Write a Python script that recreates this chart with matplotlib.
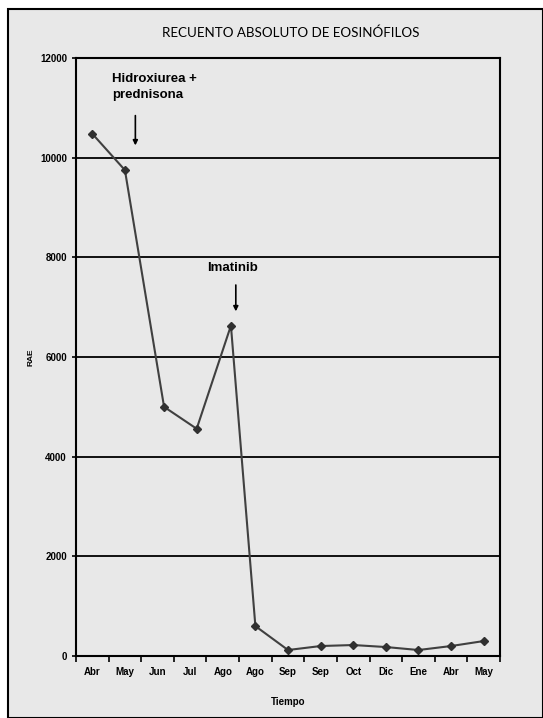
import matplotlib
matplotlib.use("Agg")
import matplotlib.pyplot as plt
from matplotlib.patches import Rectangle

# datos
meses = ["Abr", "May", "Jun", "Jul", "Ago", "Ago", "Sep", "Sep", "Oct", "Dic", "Ene", "Abr", "May"]
x_pos = [0, 1, 2.2, 3.2, 4.25, 5, 6, 7, 8, 9, 10, 11, 12]
rae = [10480, 9750, 5000, 4560, 6630, 600, 120, 200, 220, 180, 120, 200, 300]

plt.rcParams['font.family'] = ['Liberation Sans', 'DejaVu Sans']

fig = plt.figure(figsize=(5.43, 7.18), dpi=100)
fig.patch.set_facecolor("white")
# fondo gris con borde negro
fig.patches.append(Rectangle((8 / 543, 0), 535 / 543, 709 / 718, transform=fig.transFigure,
                             facecolor="#e8e8e8", edgecolor="black", linewidth=1.5, zorder=-1))

ax = fig.add_axes([76 / 543, 62 / 718, 424 / 543, 598 / 718])
ax.set_facecolor("#e8e8e8")

ax.plot(x_pos, rae, color="#404040", linewidth=1.5, marker="D", markersize=4.5,
        markerfacecolor="#303030", markeredgecolor="#303030")

ax.set_xlim(-0.5, len(meses) - 0.5)
ax.set_ylim(0, 12000)
ax.set_yticks(range(0, 12001, 2000))
ax.yaxis.grid(True, color="black", linewidth=1.3)
ax.set_axisbelow(True)

ax.set_xticks([i - 0.5 for i in range(len(meses) + 1)])
ax.set_xticklabels([])
ax.set_xticks(range(len(meses)), minor=True)
ax.set_xticklabels(meses, minor=True, fontsize=7, fontweight="bold")
ax.tick_params(axis="x", which="major", length=4, width=1.2, direction="out")
ax.tick_params(axis="x", which="minor", length=0, pad=8)
ax.tick_params(axis="y", length=3, width=1.2, labelsize=7)
for lab in ax.get_yticklabels():
    lab.set_fontweight("bold")

for s in ax.spines.values():
    s.set_linewidth(1.5)
    s.set_color("black")

ax.set_xlabel("Tiempo", fontsize=7, fontweight="bold", labelpad=14)
ax.set_ylabel("RAE", fontsize=6, fontweight="bold", labelpad=4)

fig.text(0.535, 0.954, "RECUENTO ABSOLUTO DE EOSINÓFILOS", ha="center", va="center",
         fontsize=9.6, family=["Lato", "DejaVu Sans"])

# flechas de tratamiento
ax.annotate("", xy=(1.32, 10190), xytext=(1.32, 10900),
            arrowprops=dict(arrowstyle="-|>", color="black", lw=1.2, mutation_scale=7))
ax.text(0.6, 11420, "Hidroxiurea +\nprednisona", fontsize=9.5, fontweight="bold",
        ha="left", va="center", linespacing=1.4)
ax.annotate("", xy=(4.4, 6860), xytext=(4.4, 7500),
            arrowprops=dict(arrowstyle="-|>", color="black", lw=1.2, mutation_scale=7))
ax.text(4.3, 7790, "Imatinib", fontsize=9.5, fontweight="bold", ha="center", va="center")

fig.savefig("out.png", dpi=100, facecolor=fig.get_facecolor())
